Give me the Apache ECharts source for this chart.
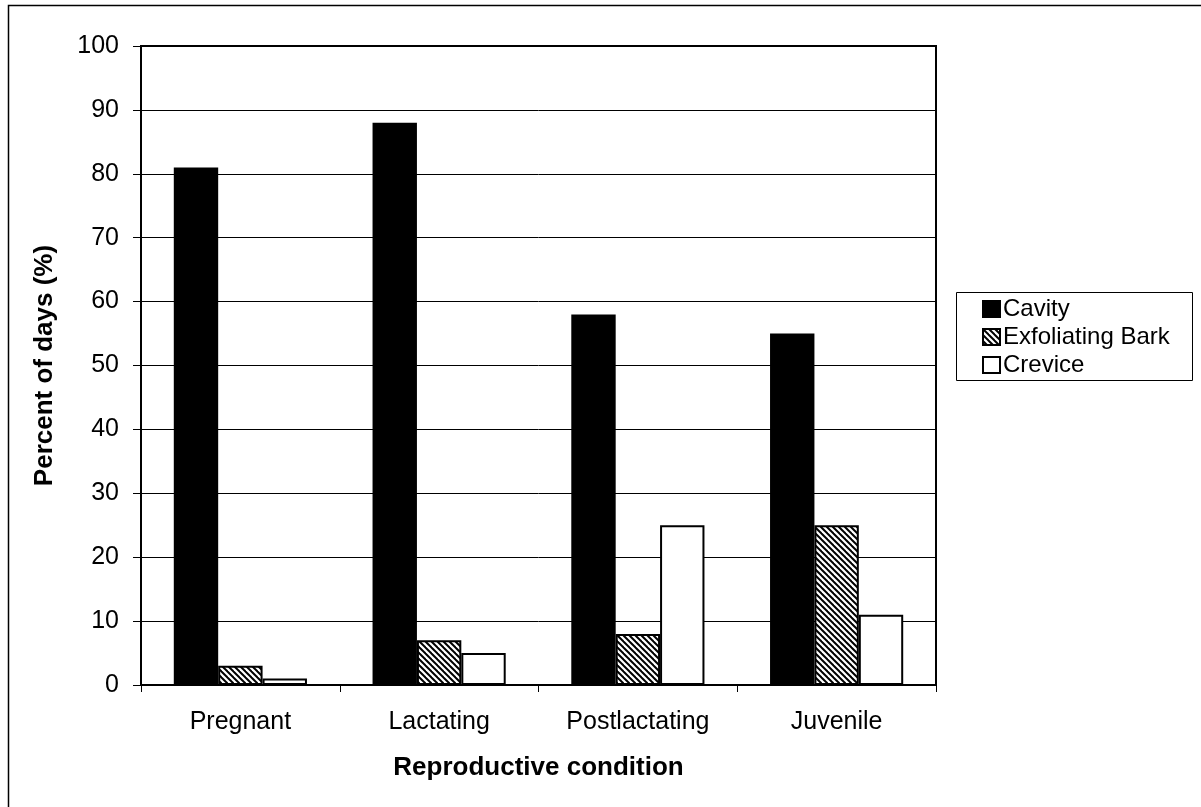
<!DOCTYPE html>
<html>
<head>
<meta charset="utf-8">
<script src="https://cdn.jsdelivr.net/npm/echarts@6/dist/echarts.min.js"></script>
<style>
html,body{margin:0;padding:0;background:#fff;}
#chart{width:1201px;height:807px;}
</style>
</head>
<body>
<div id="chart"></div>
<script>
const categories = ['Pregnant', 'Lactating', 'Postlactating', 'Juvenile'];
const cavity = [81, 88, 58, 55];
const exfoliatingBark = [3, 7, 8, 25];
const crevice = [1, 5, 25, 11];
const yTicks = [0, 10, 20, 30, 40, 50, 60, 70, 80, 90, 100];

function hatch() {
  const c = document.createElement('canvas');
  c.width = 6; c.height = 6;
  const g = c.getContext('2d');
  g.fillStyle = '#fff';
  g.fillRect(0, 0, 6, 6);
  g.strokeStyle = '#000';
  g.lineWidth = 2;
  for (let x = -6; x <= 6; x += 6) {
    g.beginPath();
    g.moveTo(x - 1, -1);
    g.lineTo(x + 7, 7);
    g.stroke();
  }
  return c;
}
const hatchPattern = { image: hatch(), repeat: 'repeat' };

const font = '"Liberation Sans", Arial, sans-serif';
const chart = echarts.init(document.getElementById('chart'), null, { renderer: 'canvas' });
chart.setOption({
  animation: false,
  backgroundColor: '#fff',
  textStyle: { fontFamily: font, color: '#000' },
  graphic: [
    { type: 'rect', shape: { x: 8.5, y: 5.5, width: 1200, height: 810 }, style: { fill: 'none', stroke: '#000', lineWidth: 1.5 }, z: -10 },
    { type: 'rect', shape: { x: 956.5, y: 292.5, width: 236, height: 88 }, style: { fill: '#fff', stroke: '#000', lineWidth: 1 }, z: 0 }
  ],
  legend: {
    orient: 'vertical',
    left: 982,
    top: 297,
    itemWidth: 17,
    itemHeight: 16,
    itemGap: 4,
    padding: 0,
    icon: 'rect',
    z: 10,
    textStyle: { fontFamily: font, fontSize: 24, lineHeight: 24, color: '#000', padding: [0, 0, 0, -2] },
    data: ['Cavity', 'Exfoliating Bark', 'Crevice']
  },
  grid: {
    left: 141, top: 46, width: 795, height: 639,
    show: true, borderColor: '#000', borderWidth: 2, backgroundColor: 'transparent'
  },
  xAxis: {
    type: 'category',
    data: categories,
    name: 'Reproductive condition',
    nameLocation: 'middle',
    nameGap: 70,
    nameTextStyle: { fontFamily: font, fontSize: 26, fontWeight: 'bold', color: '#000' },
    axisLine: { lineStyle: { color: '#000', width: 2 } },
    axisTick: { show: true, length: 7, lineStyle: { color: '#000', width: 1 } },
    axisLabel: { fontFamily: font, fontSize: 25, color: '#000', margin: 25 }
  },
  yAxis: {
    type: 'value',
    min: 0, max: 100, interval: 10,
    name: 'Percent of days (%)',
    nameLocation: 'middle',
    nameGap: 83,
    nameTextStyle: { fontFamily: font, fontSize: 26, fontWeight: 'bold', color: '#000' },
    axisLine: { show: true, lineStyle: { color: '#000', width: 2 } },
    axisTick: { show: true, length: 8, lineStyle: { color: '#000', width: 1 } },
    axisLabel: { fontFamily: font, fontSize: 25, color: '#000', margin: 22,
      formatter: v => yTicks.indexOf(v) >= 0 ? String(v) : '' },
    splitLine: { show: true, lineStyle: { color: '#000', width: 1 } }
  },
  series: [
    { name: 'Cavity', type: 'bar', data: cavity, barGap: '0%', barCategoryGap: '33%',
      itemStyle: { color: '#000', borderColor: '#000', borderWidth: 2 } },
    { name: 'Exfoliating Bark', type: 'bar', data: exfoliatingBark,
      itemStyle: { color: hatchPattern, borderColor: '#000', borderWidth: 2 } },
    { name: 'Crevice', type: 'bar', data: crevice,
      itemStyle: { color: '#fff', borderColor: '#000', borderWidth: 2 } }
  ]
});
</script>
</body>
</html>
